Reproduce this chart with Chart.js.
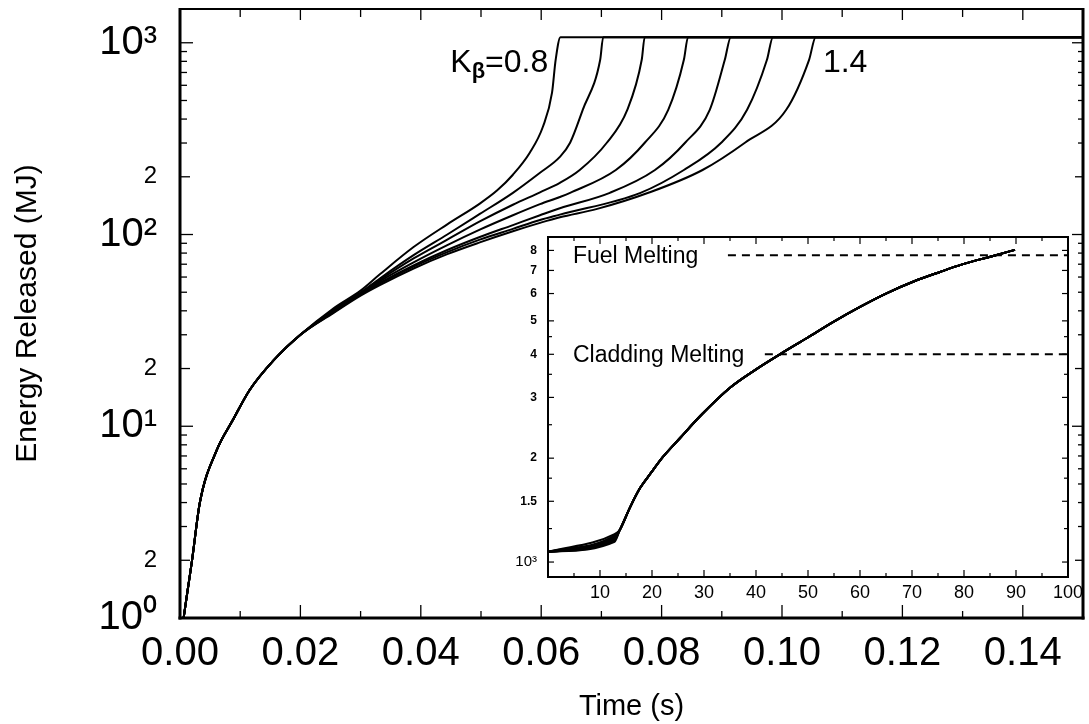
<!DOCTYPE html>
<html>
<head>
<meta charset="utf-8">
<script src="https://cdn.jsdelivr.net/npm/chart.js@4.4.1/dist/chart.umd.min.js"></script>
<style>
  html, body { margin: 0; padding: 0; background: #fff; }
  #wrap { position: relative; width: 1089px; height: 724px; }
  #mainChart { position: absolute; left: 0; top: 0; }
  #insetChart { position: absolute; left: 490px; top: 226px; }
</style>
</head>
<body>
<div id="wrap">
  <canvas id="mainChart" width="1089" height="724"></canvas>
  <canvas id="insetChart" width="599" height="392"></canvas>
</div>
<script>
// ---- main plot: energy released vs time, one curve per K_beta ----
const kBeta = [0.8, 0.9, 1.0, 1.1, 1.2, 1.3, 1.4];

// shared early rise (s, MJ)
const baseTime   = [0.0006, 0.0012, 0.0020, 0.0033, 0.0061, 0.0088, 0.0116, 0.0155, 0.0200];
const baseEnergy = [1.0, 1.35, 2.0, 4.0, 7.5, 10.8, 15.5, 22, 30];

// each curve after the bundle splits up
const tK08 = [0.0254, 0.0300, 0.0332, 0.0388, 0.0444, 0.0498, 0.0527, 0.0553, 0.0581, 0.0603, 0.0618, 0.0624, 0.0632];
const eK08 = [41, 51, 62, 86, 113, 145, 170, 205, 267, 366, 550, 815, 1070];
const tK09 = [0.0254, 0.0300, 0.0332, 0.0388, 0.0444, 0.0498, 0.0553, 0.0598, 0.0631, 0.0648, 0.0669, 0.0698, 0.0703];
const eK09 = [40.4, 49.8, 59, 78, 100, 128, 165, 210, 254, 301, 447, 815, 1070];
const tK10 = [0.0254, 0.0300, 0.0332, 0.0388, 0.0444, 0.0498, 0.0553, 0.0598, 0.0631, 0.0664, 0.0709, 0.0743, 0.0767, 0.0772];
const eK10 = [40, 49.5, 58, 75, 94, 117, 143, 166, 186, 217, 301, 447, 815, 1070];
const tK11 = [0.0254, 0.0300, 0.0332, 0.0388, 0.0444, 0.0498, 0.0553, 0.0598, 0.0631, 0.0648, 0.0724, 0.0772, 0.0811, 0.0837, 0.0844];
const eK11 = [39.7, 49, 57, 71.5, 88, 106, 126, 144, 157, 165, 217, 301, 447, 815, 1070];
const tK12 = [0.0254, 0.0300, 0.0332, 0.0388, 0.0444, 0.0498, 0.0553, 0.0598, 0.0631, 0.0714, 0.0789, 0.0839, 0.0880, 0.0905, 0.0915];
const eK12 = [39.4, 49, 56, 69, 83, 97, 112, 126, 137, 165, 217, 301, 447, 815, 1070];
const tK13 = [0.0254, 0.0300, 0.0332, 0.0388, 0.0444, 0.0498, 0.0553, 0.0598, 0.0631, 0.0765, 0.0837, 0.0899, 0.0942, 0.0975, 0.0985];
const eK13 = [39.1, 48.5, 55.5, 68, 81, 94, 107, 119, 127, 165, 217, 301, 447, 815, 1070];
const tK14 = [0.0254, 0.0300, 0.0332, 0.0388, 0.0444, 0.0498, 0.0553, 0.0598, 0.0631, 0.0693, 0.0778, 0.0868, 0.0939, 0.1007, 0.1045, 0.1056];
const eK14 = [38.8, 48, 54.5, 66.5, 79, 91, 104, 115, 123, 136, 165, 217, 302, 447, 815, 1070];

const capEnergy = 1070;   // every curve levels off here
const endTime = 0.15;

const timeTicks = [0, 0.02, 0.04, 0.06, 0.08, 0.10, 0.12, 0.14];
const energyTicks = [1, 2, 10, 20, 100, 200, 1000];
const energyLabels = ['10\u2070', '2', '10\u00b9', '2', '10\u00b2', '2', '10\u00b3'];

// ---- inset: energy vs time in ms, log scale ----
const bundleStart = 1070;
const bundleKneeTime = 12.8;
const bundleKnee = [1145, 1155, 1165, 1175, 1185, 1195, 1205];
const insetTime   = [13.8, 15.8, 17.7, 19.8, 22.1, 25.4, 29.6, 35.0, 39.8, 44.6, 49.8, 54.8, 60.0, 65.2, 70.2, 75.4, 79.8, 85.6, 89.8];
const insetEnergy = [1238, 1443, 1638, 1812, 2016, 2288, 2680, 3200, 3600, 4000, 4460, 4960, 5490, 6020, 6490, 6930, 7300, 7710, 8030];
const fuelMelt = 7750, fuelFrom = 34.6;
const claddingMelt = 4000, claddingFrom = 41.7;

const insetXTicks = [10, 20, 30, 40, 50, 60, 70, 80, 90, 100];
const insetYTicks = [1000, 1500, 2000, 3000, 4000, 5000, 6000, 7000, 8000];
const insetYLabels = ['10\u00b3', '1.5', '2', '3', '4', '5', '6', '7', '8'];
const insetYMinor = [1250, 1750, 2500, 3500, 4500];

Chart.defaults.font.family = '"Liberation Sans", Arial, sans-serif';
Chart.defaults.color = '#000';

const FONT = '"Liberation Sans", Arial, sans-serif';

const pts = (xs, ys) => xs.map((x, i) => ({ x: x, y: ys[i] }));

const curveTimes = [tK08, tK09, tK10, tK11, tK12, tK13, tK14];
const curveEnergy = [eK08, eK09, eK10, eK11, eK12, eK13, eK14];

const curveData = (i) => pts(baseTime, baseEnergy)
  .concat(pts(curveTimes[i], curveEnergy[i]))
  .concat([{ x: endTime, y: capEnergy }]);

function line(ctx, x1, y1, x2, y2) {
  ctx.beginPath();
  ctx.moveTo(x1, y1);
  ctx.lineTo(x2, y2);
  ctx.stroke();
}

// fixed axis sizes, no extra room for overhanging labels
const fixSize = (w, h) => (s) => {
  if (w != null) s.width = w;
  if (h != null) s.height = h;
  s.paddingTop = s.paddingBottom = s.paddingLeft = s.paddingRight = 0;
};

// frame + inward ticks for the main plot
const mainFrame = {
  id: 'mainFrame',
  afterDraw(chart) {
    const { ctx, chartArea: a, scales: { x, y } } = chart;
    ctx.save();
    ctx.strokeStyle = '#000';
    ctx.lineWidth = 1.3;
    for (let d = 1; d <= 1000; d *= 10) {
      for (let m = 1; m <= 9; m++) {
        const v = m * d;
        if (v > 1000) break;
        const py = y.getPixelForValue(v);
        const len = m === 1 ? 13 : (m === 2 ? 10 : 7);
        line(ctx, a.left, py, a.left + len, py);
        line(ctx, a.right, py, a.right - len + 2, py);
      }
    }
    for (let i = 1; i <= 14; i++) {
      const px = x.getPixelForValue(i * 0.01);
      const major = i % 2 === 0;
      line(ctx, px, a.bottom, px, a.bottom - (major ? 13 : 7));
      line(ctx, px, a.top, px, a.top + (major ? 11 : 8));
    }
    ctx.lineWidth = 3;
    line(ctx, a.left, a.top - 1, a.left, a.bottom + 1.5);
    line(ctx, a.left - 1.5, a.bottom, a.right + 1.5, a.bottom);
    line(ctx, a.right, a.top - 1, a.right, a.bottom + 1.5);
    ctx.lineWidth = 2;
    line(ctx, a.left, a.top, a.right, a.top);
    ctx.restore();
  }
};

// "K_beta=0.8" and "1.4" beside the first and last curve
const labelLowTime = 0.0449, labelHighTime = 0.1068, labelEnergy = 701;
const kbLabels = {
  id: 'kbLabels',
  afterDatasetsDraw(chart) {
    const { ctx, scales: { x, y } } = chart;
    ctx.save();
    ctx.fillStyle = '#000';
    ctx.textBaseline = 'alphabetic';
    let px = x.getPixelForValue(labelLowTime);
    const py = y.getPixelForValue(labelEnergy);
    ctx.font = '32px ' + FONT;
    ctx.fillText('K', px, py);
    px += ctx.measureText('K').width;
    ctx.font = 'bold 22px ' + FONT;
    ctx.fillText('\u03b2', px, py + 6);
    px += ctx.measureText('\u03b2').width;
    ctx.font = '32px ' + FONT;
    ctx.fillText('=' + kBeta[0].toFixed(1), px, py);
    ctx.fillText(kBeta[kBeta.length - 1].toFixed(1), x.getPixelForValue(labelHighTime), py);
    ctx.restore();
  }
};

new Chart(document.getElementById('mainChart'), {
  type: 'line',
  data: {
    datasets: kBeta.map((k, i) => ({
      label: 'K\u03b2=' + k.toFixed(1),
      data: curveData(i),
      borderColor: '#000',
      borderWidth: 2,
      pointRadius: 0,
      fill: false,
      cubicInterpolationMode: 'monotone'
    }))
  },
  options: {
    responsive: false,
    animation: false,
    devicePixelRatio: 1,
    layout: { padding: { top: 9, right: 6, left: 0, bottom: 0 } },
    plugins: { legend: { display: false }, tooltip: { enabled: false } },
    scales: {
      x: {
        type: 'linear', min: 0, max: endTime,
        grid: { display: false, drawTicks: false },
        border: { display: false },
        afterBuildTicks: (s) => { s.ticks = timeTicks.map(v => ({ value: v })); },
        afterFit: fixSize(null, 106),
        ticks: {
          padding: 12, autoSkip: false, maxRotation: 0,
          font: { size: 40 },
          callback: (v) => v.toFixed(2)
        },
        title: { display: true, text: 'Time (s)', font: { size: 29 }, padding: { top: 0, bottom: 0 } }
      },
      y: {
        type: 'logarithmic', min: 1, max: 1500,
        grid: { display: false, drawTicks: false },
        border: { display: false },
        afterBuildTicks: (s) => { s.ticks = energyTicks.map(v => ({ value: v })); },
        afterFit: fixSize(180, null),
        ticks: {
          padding: 23, autoSkip: false,
          font: (c) => ({ size: (c.tick && [2, 20, 200].includes(c.tick.value)) ? 24 : 40 }),
          callback: (v) => energyLabels[energyTicks.indexOf(v)]
        },
        title: { display: true, text: 'Energy Released (MJ)', font: { size: 30 }, padding: { top: 10, bottom: 0 } }
      }
    }
  },
  plugins: [mainFrame, kbLabels]
});

// ---- inset ----
const insetPaper = {
  id: 'insetPaper',
  beforeDraw(chart) {
    const { ctx, chartArea: a } = chart;
    ctx.save();
    ctx.fillStyle = '#fff';
    ctx.fillRect(a.left, a.top, a.right - a.left, a.bottom - a.top);
    ctx.restore();
  },
  afterDraw(chart) {
    const { ctx, chartArea: a, scales: { x, y } } = chart;
    ctx.save();
    ctx.strokeStyle = '#000';
    ctx.lineWidth = 1.2;
    for (let v = 5; v < 100; v += 5) {
      const px = x.getPixelForValue(v);
      const len = v % 10 === 0 ? 7 : 4;
      line(ctx, px, a.bottom, px, a.bottom - len);
      line(ctx, px, a.top, px, a.top + len);
    }
    insetYTicks.concat(insetYMinor).forEach(v => {
      const py = y.getPixelForValue(v);
      const len = insetYMinor.includes(v) ? 4 : 6;
      line(ctx, a.left, py, a.left + len, py);
      line(ctx, a.right, py, a.right - len, py);
    });
    ctx.lineWidth = 2;
    ctx.strokeRect(a.left, a.top, a.right - a.left, a.bottom - a.top);

    // melting thresholds
    ctx.fillStyle = '#000';
    ctx.font = '23px ' + FONT;
    ctx.textBaseline = 'alphabetic';
    const tx = x.getPixelForValue(4.8);
    ctx.fillText('Fuel Melting', tx, y.getPixelForValue(fuelMelt) + 8);
    ctx.fillText('Cladding Melting', tx, y.getPixelForValue(claddingMelt) + 8);
    ctx.restore();
  }
};

const insetSets = bundleKnee.map(k => ({
  data: [{ x: 0, y: bundleStart }, { x: bundleKneeTime, y: k }].concat(pts(insetTime, insetEnergy)),
  borderColor: '#000', borderWidth: 2, pointRadius: 0, fill: false,
  cubicInterpolationMode: 'monotone'
}));
insetSets.push({
  data: [{ x: fuelFrom, y: fuelMelt }, { x: 100, y: fuelMelt }],
  borderColor: '#000', borderWidth: 2, borderDash: [8, 6], pointRadius: 0, fill: false
});
insetSets.push({
  data: [{ x: claddingFrom, y: claddingMelt }, { x: 100, y: claddingMelt }],
  borderColor: '#000', borderWidth: 2, borderDash: [8, 6], pointRadius: 0, fill: false
});

new Chart(document.getElementById('insetChart'), {
  type: 'line',
  data: { datasets: insetSets },
  options: {
    responsive: false,
    animation: false,
    devicePixelRatio: 1,
    layout: { padding: { top: 11, right: 21, left: 0, bottom: 0 } },
    plugins: { legend: { display: false }, tooltip: { enabled: false } },
    scales: {
      x: {
        type: 'linear', min: 0, max: 100,
        grid: { display: false, drawTicks: false },
        border: { display: false },
        afterBuildTicks: (s) => { s.ticks = insetXTicks.map(v => ({ value: v })); },
        afterFit: fixSize(null, 41),
        ticks: { padding: 5, autoSkip: false, maxRotation: 0, font: { size: 18 } }
      },
      y: {
        type: 'logarithmic', min: 905, max: 8750,
        grid: { display: false, drawTicks: false },
        border: { display: false },
        afterBuildTicks: (s) => { s.ticks = insetYTicks.map(v => ({ value: v })); },
        afterFit: fixSize(58, null),
        ticks: {
          padding: 11, autoSkip: false,
          font: (c) => (c.tick && c.tick.value === 1000) ? { size: 15 } : { size: 12, weight: 'bold' },
          callback: (v) => insetYLabels[insetYTicks.indexOf(v)]
        }
      }
    }
  },
  plugins: [insetPaper]
});
</script>
</body>
</html>
